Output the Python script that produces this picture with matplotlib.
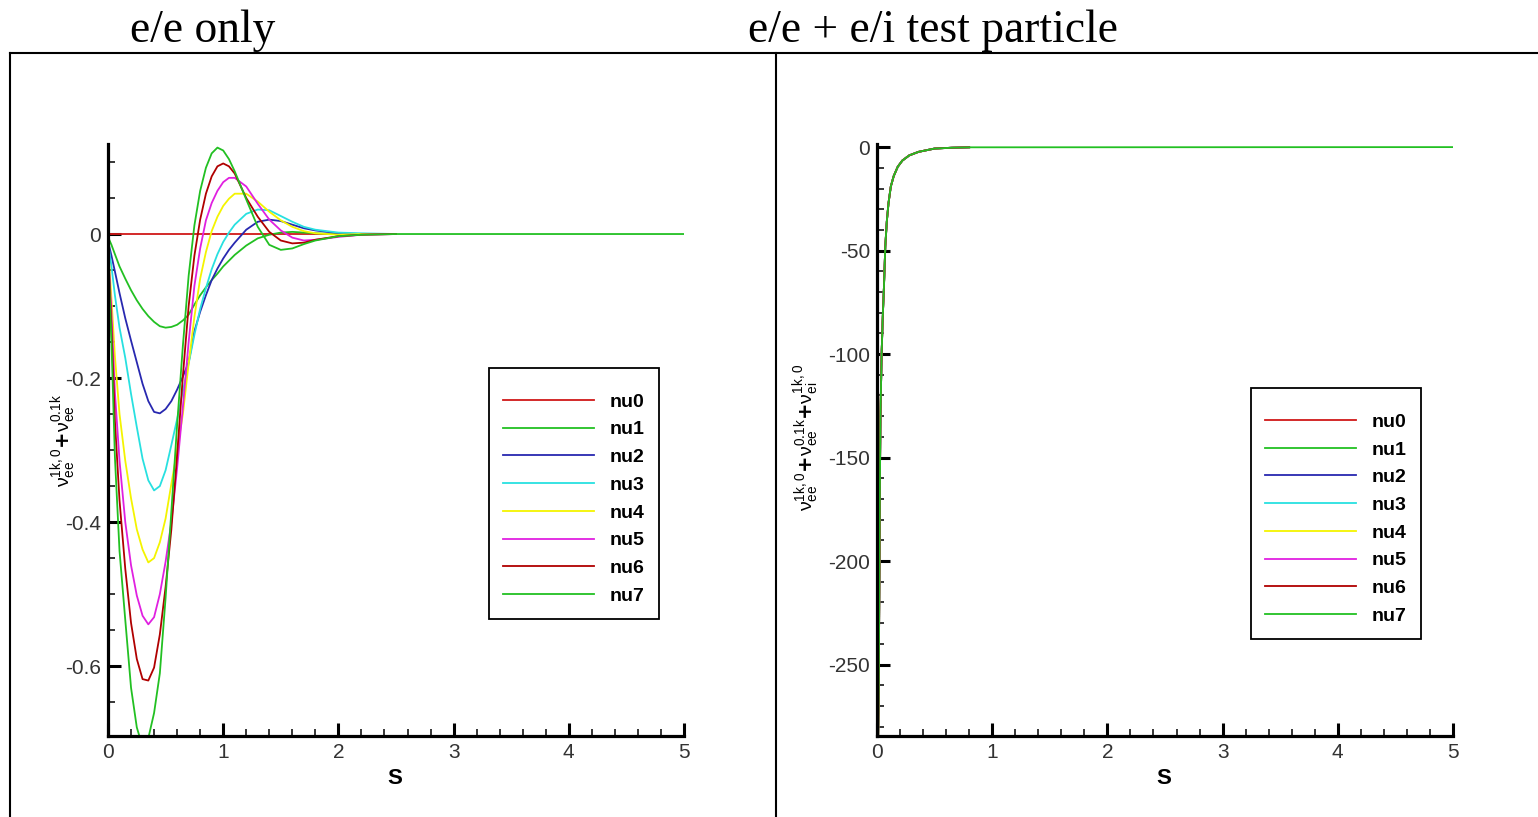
#!/usr/bin/env python3
# -*- coding: utf-8 -*-
"""
Velocity relaxation curves, e/e only vs e/e + e/i test particle
"""
import numpy as np
import matplotlib
matplotlib.use('Agg')
from matplotlib import pyplot as plt
from matplotlib.lines import Line2D
from matplotlib.ticker import MultipleLocator, FuncFormatter

plt.rcParams['font.family'] = ['Liberation Sans', 'DejaVu Sans']
plt.rcParams['axes.unicode_minus'] = False
plt.rcParams['mathtext.default'] = 'regular'

labels = ['nu0', 'nu1', 'nu2', 'nu3', 'nu4', 'nu5', 'nu6', 'nu7']
colors = ['#d01818', '#22c022', '#2828b0', '#28e0e0', '#f4f400', '#e020e0', '#b00000', '#22c022']

# ---- left panel: e/e only ----
s_ee = [0, 0.03, 0.06, 0.1, 0.15, 0.2, 0.25, 0.3, 0.35, 0.4, 0.45, 0.5, 0.55, 0.6, 0.65,
        0.7, 0.75, 0.8, 0.85, 0.9, 0.95, 1.0, 1.05, 1.1, 1.2, 1.3, 1.4, 1.5, 1.6, 1.7, 1.8,
        2.0, 2.2, 2.5]
nu0_ee = [0.0] * len(s_ee)
nu1_ee = [-0.004, -0.015, -0.028, -0.045, -0.062, -0.078, -0.092, -0.104, -0.114, -0.122,
          -0.128, -0.130, -0.129, -0.126, -0.120, -0.112, -0.098, -0.085, -0.074, -0.064,
          -0.055, -0.045, -0.037, -0.029, -0.016, -0.006, -0.001, 0.002, 0.003, 0.002,
          0.001, 0.0, 0.0, 0.0]
nu2_ee = [-0.01, -0.03, -0.052, -0.082, -0.117, -0.148, -0.178, -0.208, -0.232, -0.247,
          -0.249, -0.243, -0.232, -0.216, -0.198, -0.178, -0.135, -0.108, -0.085, -0.064,
          -0.048, -0.034, -0.022, -0.012, 0.006, 0.017, 0.020, 0.018, 0.013, 0.008,
          0.005, 0.001, 0.0, 0.0]
nu3_ee = [-0.01, -0.045, -0.085, -0.130, -0.172, -0.222, -0.268, -0.312, -0.342, -0.356,
          -0.350, -0.328, -0.293, -0.257, -0.218, -0.180, -0.140, -0.104, -0.075, -0.049,
          -0.028, -0.011, 0.002, 0.013, 0.028, 0.034, 0.033, 0.025, 0.017, 0.010,
          0.006, 0.002, 0.001, 0.0]
nu4_ee = [-0.015, -0.09, -0.17, -0.25, -0.315, -0.367, -0.41, -0.438, -0.456, -0.45,
          -0.428, -0.395, -0.347, -0.30, -0.25, -0.18, -0.115, -0.062, -0.025, 0.004,
          0.024, 0.039, 0.049, 0.056, 0.056, 0.045, 0.031, 0.019, 0.010, 0.004,
          0.001, -0.001, 0.0, 0.0]
nu5_ee = [-0.02, -0.11, -0.22, -0.315, -0.40, -0.46, -0.502, -0.53, -0.542, -0.532,
          -0.50, -0.455, -0.40, -0.325, -0.24, -0.15, -0.072, -0.02, 0.019, 0.043,
          0.060, 0.072, 0.078, 0.078, 0.066, 0.042, 0.020, 0.005, -0.005, -0.009,
          -0.008, -0.004, -0.001, 0.0]
nu6_ee = [-0.02, -0.13, -0.26, -0.37, -0.465, -0.54, -0.59, -0.618, -0.62, -0.602,
          -0.556, -0.49, -0.41, -0.307, -0.197, -0.10, -0.03, 0.02, 0.056, 0.080,
          0.094, 0.098, 0.094, 0.084, 0.050, 0.024, 0.003, -0.009, -0.013, -0.012,
          -0.008, -0.003, -0.001, 0.0]
nu7_ee = [-0.02, -0.15, -0.31, -0.44, -0.536, -0.63, -0.685, -0.712, -0.70, -0.665,
          -0.61, -0.505, -0.385, -0.265, -0.155, -0.058, 0.012, 0.060, 0.092, 0.112,
          0.120, 0.116, 0.104, 0.087, 0.048, 0.010, -0.015, -0.022, -0.020, -0.014,
          -0.009, -0.003, -0.001, 0.0]
s_tail = [2.5, 5.0]
nu7_tail = [0.0, 0.0]

# ---- right panel: e/e + e/i test particle (all nu curves sit on top of each other) ----
s_ei = [0, 0.005, 0.01, 0.015, 0.02, 0.025, 0.03, 0.04, 0.05, 0.06, 0.072, 0.085, 0.1,
        0.12, 0.145, 0.18, 0.22, 0.28, 0.36, 0.5, 0.65, 0.8]
v_ei = [-310, -300, -285, -262, -215, -165, -130, -100, -82, -68, -48, -36, -27,
        -19, -14, -9.5, -6.5, -4, -2.3, -0.7, -0.3, -0.1]
s_ei_tail = [0.8, 5.0]
v_ei_tail = [-0.1, 0.0]

W, H = 1538, 817
fig = plt.figure(figsize=(W / 100, H / 100), dpi=100)

# table-like frame around the two panels
for (x0, y0, x1, y1) in [(10, 53, W, 53), (10, 53, 10, H), (776, 53, 776, H)]:
    fig.add_artist(Line2D([x0 / W, x1 / W], [1 - y0 / H, 1 - y1 / H], color='black', lw=1.5))

fig.text(202.5 / W, 1 - 42 / H, 'e/e only', ha='center', va='baseline',
         family='Liberation Serif', fontsize=32.8)
fig.text(933 / W, 1 - 42 / H, 'e/e + e/i test particle', ha='center', va='baseline',
         family='Liberation Serif', fontsize=32.8)


def style_axes(ax, ymajor, yminor):
    for side in ['top', 'right']:
        ax.spines[side].set_visible(False)
    for side in ['left', 'bottom']:
        ax.spines[side].set_linewidth(2.3)
    ax.set_facecolor('none')
    ax.xaxis.set_major_locator(MultipleLocator(1))
    ax.xaxis.set_minor_locator(MultipleLocator(0.2))
    ax.yaxis.set_major_locator(MultipleLocator(ymajor))
    ax.yaxis.set_minor_locator(MultipleLocator(yminor))
    fmt = FuncFormatter(lambda v, _: '%g' % (round(v, 6) + 0.0))
    ax.xaxis.set_major_formatter(fmt)
    ax.yaxis.set_major_formatter(fmt)
    ax.tick_params(which='major', direction='in', length=9.5, width=2.2,
                   labelsize=15, pad=5, labelcolor='#333333')
    ax.tick_params(which='minor', direction='in', length=5, width=1.1)
    ax.text(0.498, -0.071, 'S', transform=ax.transAxes, ha='center', va='center',
            family='Liberation Sans', fontweight='bold', fontsize=16)


def add_legend(ax, x, y):
    # blank title gives the extra room above the first entry
    leg = ax.legend(loc='lower left', bbox_to_anchor=(x, y), borderaxespad=0,
                    frameon=True, fancybox=False, framealpha=1, edgecolor='black',
                    handlelength=4.7, handletextpad=0.8, labelspacing=0.52, borderpad=0.72,
                    title=' ', title_fontsize=1,
                    prop={'family': 'Liberation Sans', 'weight': 'bold', 'size': 14})
    leg.get_frame().set_linewidth(1.3)


# left panel
ax1 = fig.add_axes([108 / W, 1 - 736 / H, 576 / W, 592 / H])
ee_series = [nu0_ee, nu1_ee, nu2_ee, nu3_ee, nu4_ee, nu5_ee, nu6_ee, nu7_ee]
for i, vals in enumerate(ee_series):
    if i == 7:
        ax1.plot(s_ee + s_tail[1:], vals + nu7_tail[1:], color=colors[i], lw=1.3, label=labels[i])
    else:
        ax1.plot(s_ee, vals, color=colors[i], lw=1.3, label=labels[i])
ax1.set_xlim(0, 5)
ax1.set_ylim(-0.697, 0.125)
style_axes(ax1, 0.2, 0.05)
ax1.text(-0.077, 0.5, r'$\nu_{ee}^{1k,0}\mathbf{+}\nu_{ee}^{0.1k}$', transform=ax1.transAxes,
         rotation=90, ha='center', va='center', fontsize=14)
add_legend(ax1, 0.661, 0.198)

# right panel
ax2 = fig.add_axes([877 / W, 1 - 736 / H, 576 / W, 592 / H])
for i in range(8):
    if i == 7:
        ax2.plot(s_ei + s_ei_tail[1:], v_ei + v_ei_tail[1:], color=colors[i], lw=1.3, label=labels[i])
    else:
        ax2.plot(s_ei, v_ei, color=colors[i], lw=1.3, label=labels[i])
ax2.set_xlim(0, 5)
ax2.set_ylim(-284.5, 1.5)
style_axes(ax2, 50, 10)
ax2.text(-0.122, 0.505, r'$\nu_{ee}^{1k,0}\mathbf{+}\nu_{ee}^{0.1k}\mathbf{+}\nu_{ei}^{1k,0}$',
         transform=ax2.transAxes, rotation=90, ha='center', va='center', fontsize=14)
add_legend(ax2, 0.649, 0.164)

fig.savefig('out.png', dpi=100, facecolor='white')
